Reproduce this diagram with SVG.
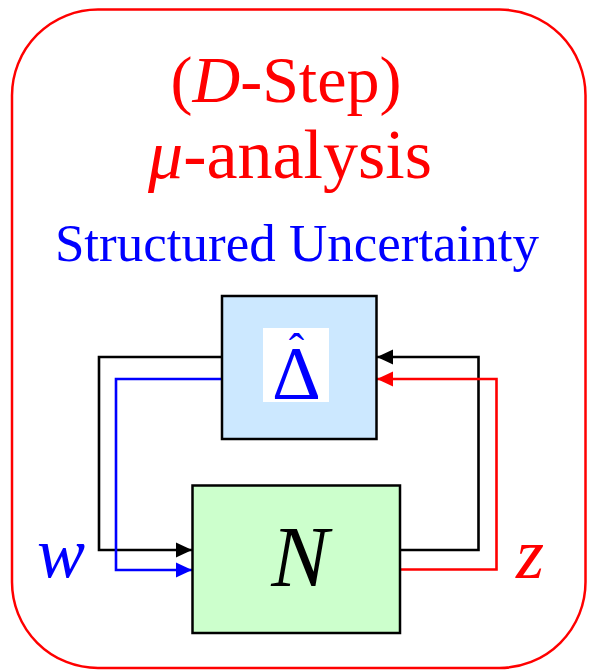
<svg xmlns="http://www.w3.org/2000/svg" width="596" height="670" viewBox="0 0 596 670">
<style>
.frame{fill:none;stroke:#ff0000;stroke-width:2.5}
.box{stroke:#000;stroke-width:2.5}
.t{font-family:"Liberation Serif","Times New Roman",serif}
.it{font-style:italic}
.c{fill:none;stroke-width:2.6;stroke-linejoin:miter}
</style>
<defs>
<marker id="ak" markerUnits="userSpaceOnUse" markerWidth="17" markerHeight="17" viewBox="0 0 17 17" refX="16" refY="8.5" orient="auto"><path d="M0,1 L16,8.5 L0,16 Z" fill="#000"/></marker>
<marker id="ab" markerUnits="userSpaceOnUse" markerWidth="17" markerHeight="17" viewBox="0 0 17 17" refX="16" refY="8.5" orient="auto"><path d="M0,1 L16,8.5 L0,16 Z" fill="#0000ff"/></marker>
<marker id="ar" markerUnits="userSpaceOnUse" markerWidth="17" markerHeight="17" viewBox="0 0 17 17" refX="16" refY="8.5" orient="auto"><path d="M0,1 L16,8.5 L0,16 Z" fill="#ff0000"/></marker>
</defs>
<rect class="frame" x="12" y="9.5" width="573.5" height="658.5" rx="86" ry="86"/>
<g id="titles" class="t">
<text x="286" y="102" font-size="66" fill="#ff0000" text-anchor="middle">(<tspan class="it">D</tspan>-Step)</text>
<text x="290" y="178" font-size="70" fill="#ff0000" text-anchor="middle"><tspan class="it">μ</tspan>-analysis</text>
<text x="297" y="261" font-size="53" fill="#0000ff" text-anchor="middle">Structured Uncertainty</text>
</g>
<g id="connectors">
<path class="c" stroke="#000" d="M222,357 H99 V550 H192" marker-end="url(#ak)"/>
<path class="c" stroke="#0000ff" d="M222,379 H116 V570 H192" marker-end="url(#ab)"/>
<path class="c" stroke="#000" d="M400,550 H478.5 V357 H377" marker-end="url(#ak)"/>
<path class="c" stroke="#ff0000" d="M400,569.5 H496.5 V379 H377" marker-end="url(#ar)"/>
</g>
<g id="delta">
<rect class="box" x="222" y="296" width="154.5" height="143" fill="#cce8ff"/>
<rect x="263" y="328" width="66" height="74" fill="#fff"/>
<text class="t" x="296.5" y="399" font-size="76" fill="#0000ff" text-anchor="middle">Δ<tspan x="296.5" y="366" font-size="46">ˆ</tspan></text>
</g>
<g id="N">
<rect class="box" x="192.5" y="485.5" width="207.5" height="147.5" fill="#ccffcc"/>
<text class="t it" x="300" y="586" font-size="86" fill="#000" text-anchor="middle">N</text>
</g>
<g id="w"><text class="t it" x="37" y="577" font-size="72" fill="#0000ff">w</text></g>
<g id="z"><text class="t it" x="516" y="578" font-size="72" fill="#ff0000">z</text></g>
</svg>
